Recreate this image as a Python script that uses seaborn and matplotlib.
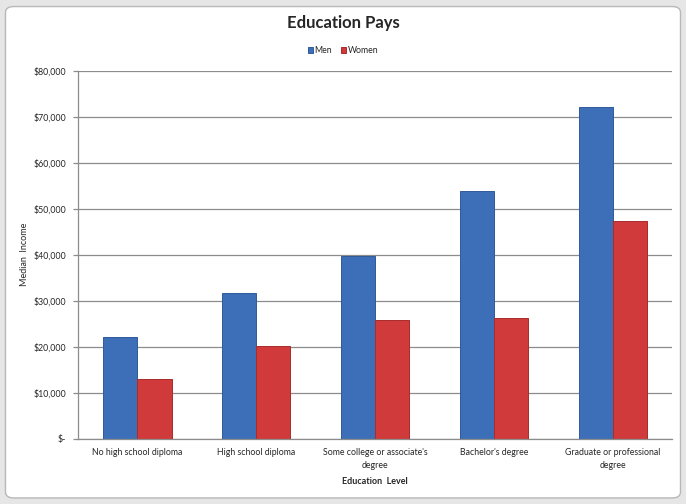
import matplotlib
matplotlib.use("Agg")
import matplotlib.pyplot as plt
from matplotlib.patches import FancyBboxPatch
from matplotlib.ticker import FuncFormatter, MultipleLocator
import seaborn as sns
import pandas as pd

categories = ["No high school diploma", "High school diploma",
              "Some college or associate's\ndegree", "Bachelor's degree",
              "Graduate or professional\ndegree"]
men = [22150, 31720, 39700, 53760, 72100]
women = [13050, 20150, 25740, 26180, 47300]
series = ["Men", "Women"]

df = pd.DataFrame({
    "Education Level": categories * 2,
    "Median Income": men + women,
    "Sex": [series[0]] * len(categories) + [series[1]] * len(categories),
})

sns.set_style("white")
plt.rcParams["font.family"] = ["Lato", "DejaVu Sans"]

fig = plt.figure(figsize=(6.86, 5.04), dpi=100)
fig.patch.set_facecolor("#e6e6e6")
frame = FancyBboxPatch((0.008, 0.012), 0.984, 0.975, boxstyle="round,pad=0,rounding_size=0.012",
                       transform=fig.transFigure, facecolor="white", edgecolor="#b8b8b8",
                       linewidth=1.0, zorder=-10)
fig.patches.append(frame)

ax = fig.add_axes([0.1137, 0.129, 0.866, 0.731])
ax.set_zorder(5)
ax.patch.set_alpha(0)
palette = {"Men": "#3d6fb8", "Women": "#d03a3a"}
sns.barplot(data=df, x="Education Level", y="Median Income", hue="Sex",
            palette=palette, width=0.575, saturation=1, ax=ax,
            edgecolor="none", linewidth=0)
edge = {"#3d6fb8": "#2f5a99", "#d03a3a": "#a82c2c"}
for bar in ax.patches:
    fc = matplotlib.colors.to_hex(bar.get_facecolor())
    if fc in edge:
        bar.set_edgecolor(edge[fc])
        bar.set_linewidth(0.7)

ax.set_ylim(0, 80000)
ax.yaxis.set_major_locator(MultipleLocator(10000))
ax.yaxis.set_major_formatter(FuncFormatter(lambda v, p: "$-" if v == 0 else f"${v:,.0f}"))
ax.grid(axis="y", color="#8c8c8c", linewidth=0.9)
ax.set_axisbelow(True)
for s in ["top", "right"]:
    ax.spines[s].set_visible(False)
for s in ["left", "bottom"]:
    ax.spines[s].set_color("#8c8c8c")
    ax.spines[s].set_linewidth(0.9)
ax.tick_params(axis="y", which="major", length=3.6, width=0.9, color="#8c8c8c",
               labelsize=6.3, pad=5, direction="out", left=True)
ax.tick_params(axis="x", length=0, labelsize=6.3, pad=6.5)
for lbl in ax.get_xticklabels():
    lbl.set_linespacing(1.6)
ax.set_xlabel("Education  Level", fontsize=6.5, fontweight="bold", labelpad=5)
ax.set_ylabel("Median  Income", fontsize=6.5, labelpad=3)

handles, labels = ax.get_legend_handles_labels()
ax.legend(handles, labels, loc="center", bbox_to_anchor=(0.5, 0.900),
          bbox_transform=fig.transFigure, ncol=2, frameon=False, fontsize=6.3,
          handlelength=0.6, handleheight=0.6, handletextpad=0.2, columnspacing=1.0)

fig.text(0.5, 0.955, "Education Pays", ha="center", va="center",
         fontsize=12, fontweight="bold", zorder=10)

fig.savefig("out.png", dpi=100, facecolor=fig.get_facecolor())
